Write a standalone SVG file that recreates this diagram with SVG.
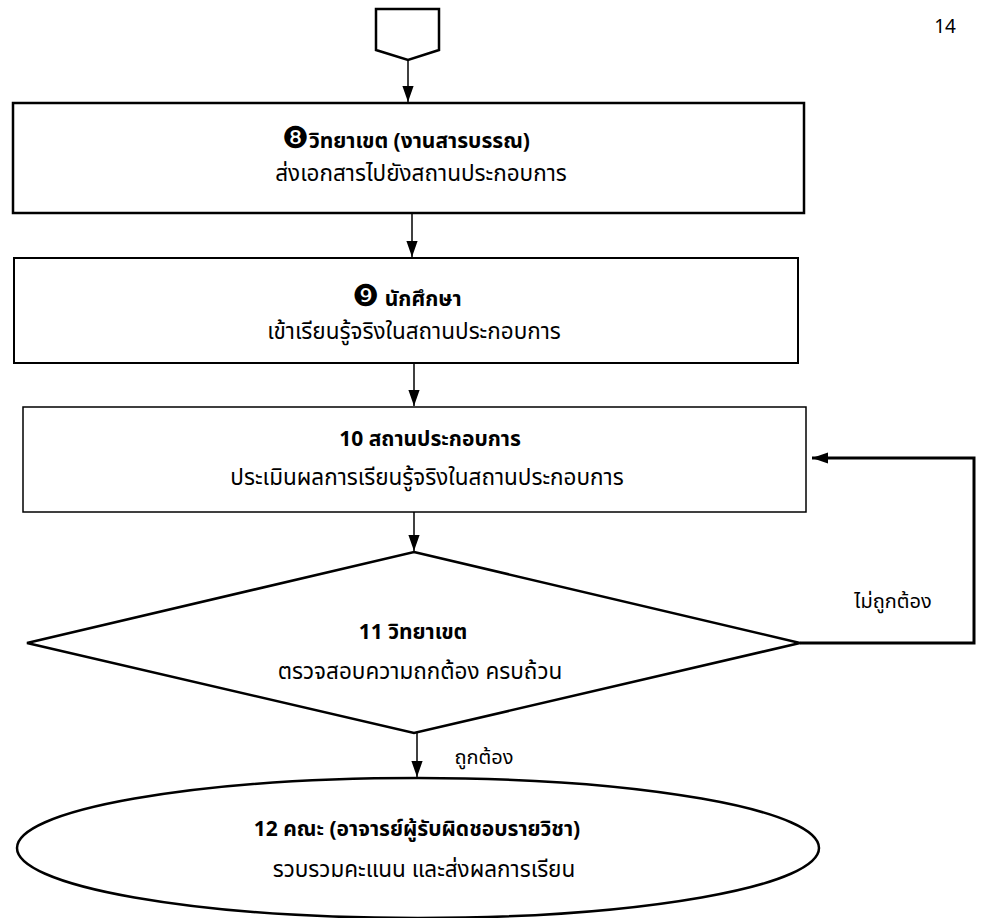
<svg xmlns="http://www.w3.org/2000/svg" width="981" height="918" viewBox="0 0 981 918">
<style>
.shape{fill:#fff;stroke:#000;stroke-linejoin:miter}
.t{font-family:"Noto Sans","Noto Sans Thai","DejaVu Sans",sans-serif;font-size:22.5px;fill:#000;text-anchor:middle}
.b{font-weight:bold;font-size:21px}
.lbl{font-size:20px}
.dg{font-family:"DejaVu Serif","DejaVu Sans",serif;font-weight:normal;font-size:30px}
.con{fill:none;stroke:#000;stroke-width:1.5}
</style>
<defs>
<marker id="ahl" viewBox="0 0 10 10" refX="10" refY="5" markerWidth="16" markerHeight="16" markerUnits="userSpaceOnUse" orient="auto">
<path d="M0,1.5 L10,5 L0,8.5 Z" fill="#000"/>
</marker>
</defs>
<rect width="981" height="918" fill="#fff"/>
<text x="945" y="33" class="t" style="font-size:19px">14</text>
<g id="connector-start">
<polygon class="shape" stroke-width="2.5" points="376,9 439,9 439,50 408,60 376,50"/>
</g>
<g id="node8">
<rect class="shape" stroke-width="2.5" x="13" y="103" width="791" height="110"/>
<text x="406" y="148" class="t b"><tspan class="dg">❽</tspan>วิทยาเขต (งานสารบรรณ)</text>
<text x="421" y="181" class="t">ส่งเอกสารไปยังสถานประกอบการ</text>
</g>
<g id="node9">
<rect class="shape" stroke-width="2" x="14" y="258" width="784" height="105"/>
<text x="407" y="306" class="t b"><tspan class="dg">❾</tspan> นักศึกษา</text>
<text x="414" y="339" class="t">เข้าเรียนรู้จริงในสถานประกอบการ</text>
</g>
<g id="node10">
<rect class="shape" stroke-width="1.5" x="23" y="407" width="783" height="105"/>
<text x="430" y="446" class="t b">10 สถานประกอบการ</text>
<text x="427" y="485" class="t">ประเมินผลการเรียนรู้จริงในสถานประกอบการ</text>
</g>
<g id="node11">
<polygon class="shape" stroke-width="2.5" points="414,552 800,643 414,733 27,643"/>
<text x="413" y="639" class="t b">11 วิทยาเขต</text>
<text x="420" y="679" class="t">ตรวจสอบความถกต้อง ครบถ้วน</text>
</g>
<g id="node12">
<ellipse class="shape" stroke-width="2.5" cx="418" cy="848" rx="401" ry="70"/>
<text x="417" y="836" class="t b">12 คณะ (อาจารย์ผู้รับผิดชอบรายวิชา)</text>
<text x="424" y="877" class="t">รวบรวมคะแนน และส่งผลการเรียน</text>
</g>
<g id="connectors">
<line class="con" x1="408" y1="60" x2="408" y2="102" marker-end="url(#ahl)"/>
<line class="con" x1="412" y1="213" x2="412" y2="257" marker-end="url(#ahl)"/>
<line class="con" x1="414" y1="363" x2="414" y2="406" marker-end="url(#ahl)"/>
<line class="con" x1="414" y1="512" x2="414" y2="551" marker-end="url(#ahl)"/>
<line class="con" x1="417" y1="733" x2="417" y2="777" marker-end="url(#ahl)"/>
<polyline fill="none" stroke="#000" stroke-width="3" points="800,643 974,643 974,458 812,458" marker-end="url(#ahl)"/>
<text x="893" y="608" class="t lbl">ไม่ถูกต้อง</text>
<text x="484" y="764" class="t lbl">ถูกต้อง</text>
</g>
</svg>
